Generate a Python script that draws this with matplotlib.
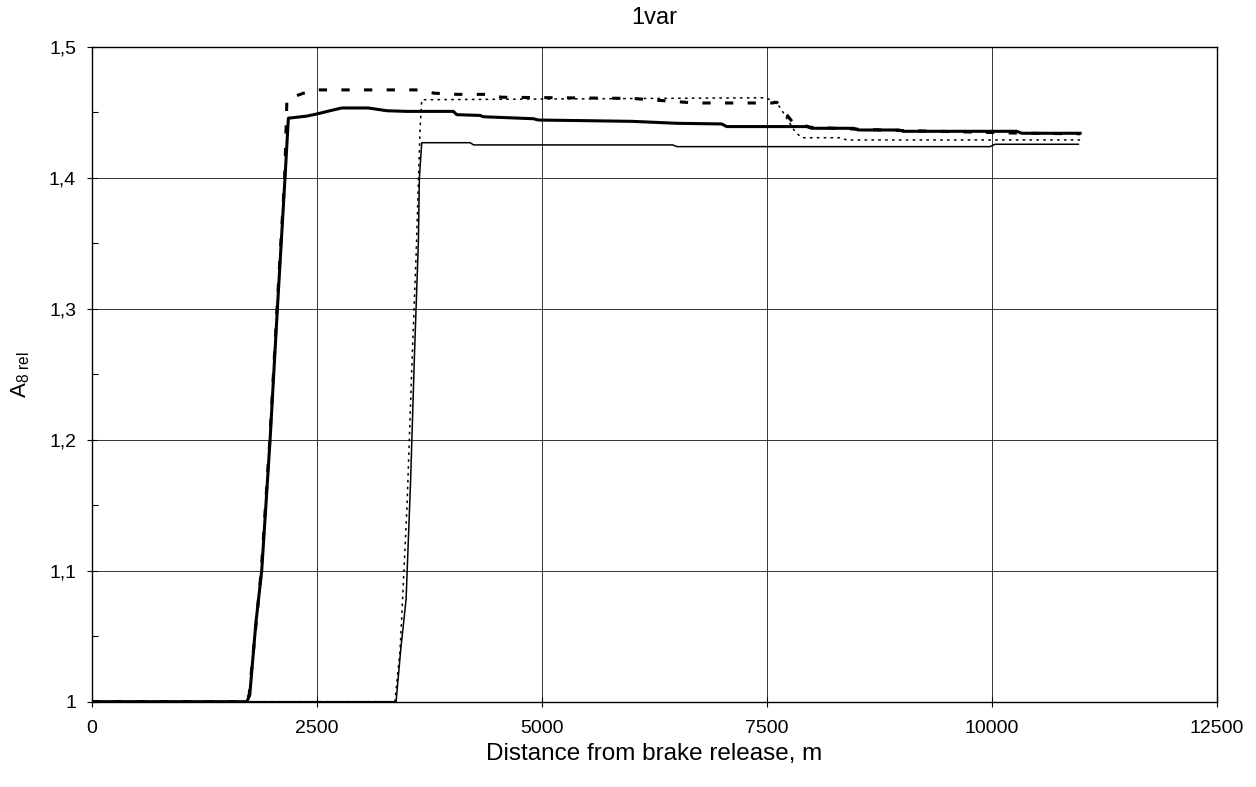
import numpy as np
import matplotlib
matplotlib.use("Agg")
import matplotlib.pyplot as plt
from matplotlib.ticker import MultipleLocator, FuncFormatter

plt.rcParams['font.family'] = ['Liberation Sans', 'DejaVu Sans']
plt.rcParams['mathtext.fontset'] = 'custom'
plt.rcParams['mathtext.rm'] = 'Liberation Sans'

# thick solid
thick_x = [0, 1720, 1752, 1820, 1885, 1978, 2059, 2144, 2181, 2385, 2496, 2644, 2774, 3070,
           3274, 3496, 4015, 4052, 4311, 4348, 4904, 4959, 5500, 6000, 6500, 6996, 7052,
           7941, 7996, 8460, 8515, 8960, 9015, 10274, 10330, 10978]
thick_y = [1, 1, 1.005, 1.06, 1.1, 1.2, 1.3, 1.4, 1.4454, 1.447, 1.4486, 1.4511, 1.4532, 1.4532,
           1.4511, 1.4506, 1.4506, 1.4481, 1.4475, 1.4465, 1.445, 1.444, 1.4435, 1.443, 1.4415,
           1.441, 1.439, 1.439, 1.4377, 1.4377, 1.4364, 1.4364, 1.4354, 1.4354, 1.4339, 1.4339]

# thick dashed
dash_x = [0, 1700, 1745, 1880, 1975, 2055, 2140, 2165, 2350, 2500, 3600, 3800, 4050, 4400,
          4550, 6000, 6700, 7550, 7610, 7780, 7980, 8500, 9000, 10300, 10980]
dash_y = [1, 1, 1.005, 1.1, 1.2, 1.3, 1.4, 1.46, 1.4645, 1.467, 1.467, 1.4645, 1.4636, 1.4636,
          1.4614, 1.4605, 1.457, 1.457, 1.4575, 1.4427, 1.4385, 1.437, 1.436, 1.434, 1.4335]

# thin dotted
dot_x = [0, 3365, 3385, 3422, 3441, 3500, 3550, 3600, 3644, 3663, 7480, 7607, 7700, 7811,
         7885, 8311, 8385, 10978]
dot_y = [1, 1, 1.014, 1.039, 1.065, 1.15, 1.25, 1.34, 1.436, 1.4595, 1.461, 1.4575, 1.4475,
         1.4351, 1.4305, 1.4305, 1.4288, 1.4288]

# thin solid
thin_x = [0, 3378, 3430, 3489, 3540, 3580, 3610, 3626, 3637, 3663, 4200, 4240, 6450, 6500,
          9978, 10033, 10959]
thin_y = [1, 1, 1.04, 1.078, 1.17, 1.26, 1.32, 1.352, 1.4, 1.4267, 1.4267, 1.425, 1.425, 1.4237,
          1.4237, 1.4255, 1.4255]

fig = plt.figure(figsize=(12.56, 7.87), dpi=100)
ax = fig.add_axes([0.0733, 0.1084, 0.8957, 0.8323])

ax.plot(thin_x, thin_y, color='black', lw=1.1)
ax.plot(dot_x, dot_y, color='black', lw=1.1, dashes=(1.7, 2.8))
ax.plot(dash_x, dash_y, color='black', lw=2.2, dashes=(2.7, 4.7))
ax.plot(thick_x, thick_y, color='black', lw=2.2)

ax.set_xlim(0, 12500)
ax.set_ylim(1, 1.5)
ax.xaxis.set_major_locator(MultipleLocator(2500))
ax.yaxis.set_major_locator(MultipleLocator(0.1))
ax.yaxis.set_minor_locator(MultipleLocator(0.05))
ax.yaxis.set_major_formatter(FuncFormatter(lambda v, p: ('%g' % round(v, 2)).replace('.', ',')))
ax.grid(True, which='major', color='#333333', lw=0.7)
ax.set_axisbelow(True)
for s in ax.spines.values():
    s.set_linewidth(1.0)

ax.tick_params(axis='both', which='major', direction='inout', length=7, width=0.8, labelsize=14)
ax.tick_params(axis='x', which='major', pad=10)
ax.tick_params(axis='y', which='major', pad=8)
ax.tick_params(axis='y', which='minor', direction='in', length=4, width=0.8)

ax.set_title('1var', fontsize=17, pad=16)
ax.set_xlabel('Distance from brake release, m', fontsize=17.5, labelpad=4)
ax.set_ylabel(r'A$_{\mathregular{8\ rel}}$', fontsize=16, labelpad=12)

fig.savefig('out.png', dpi=100)
